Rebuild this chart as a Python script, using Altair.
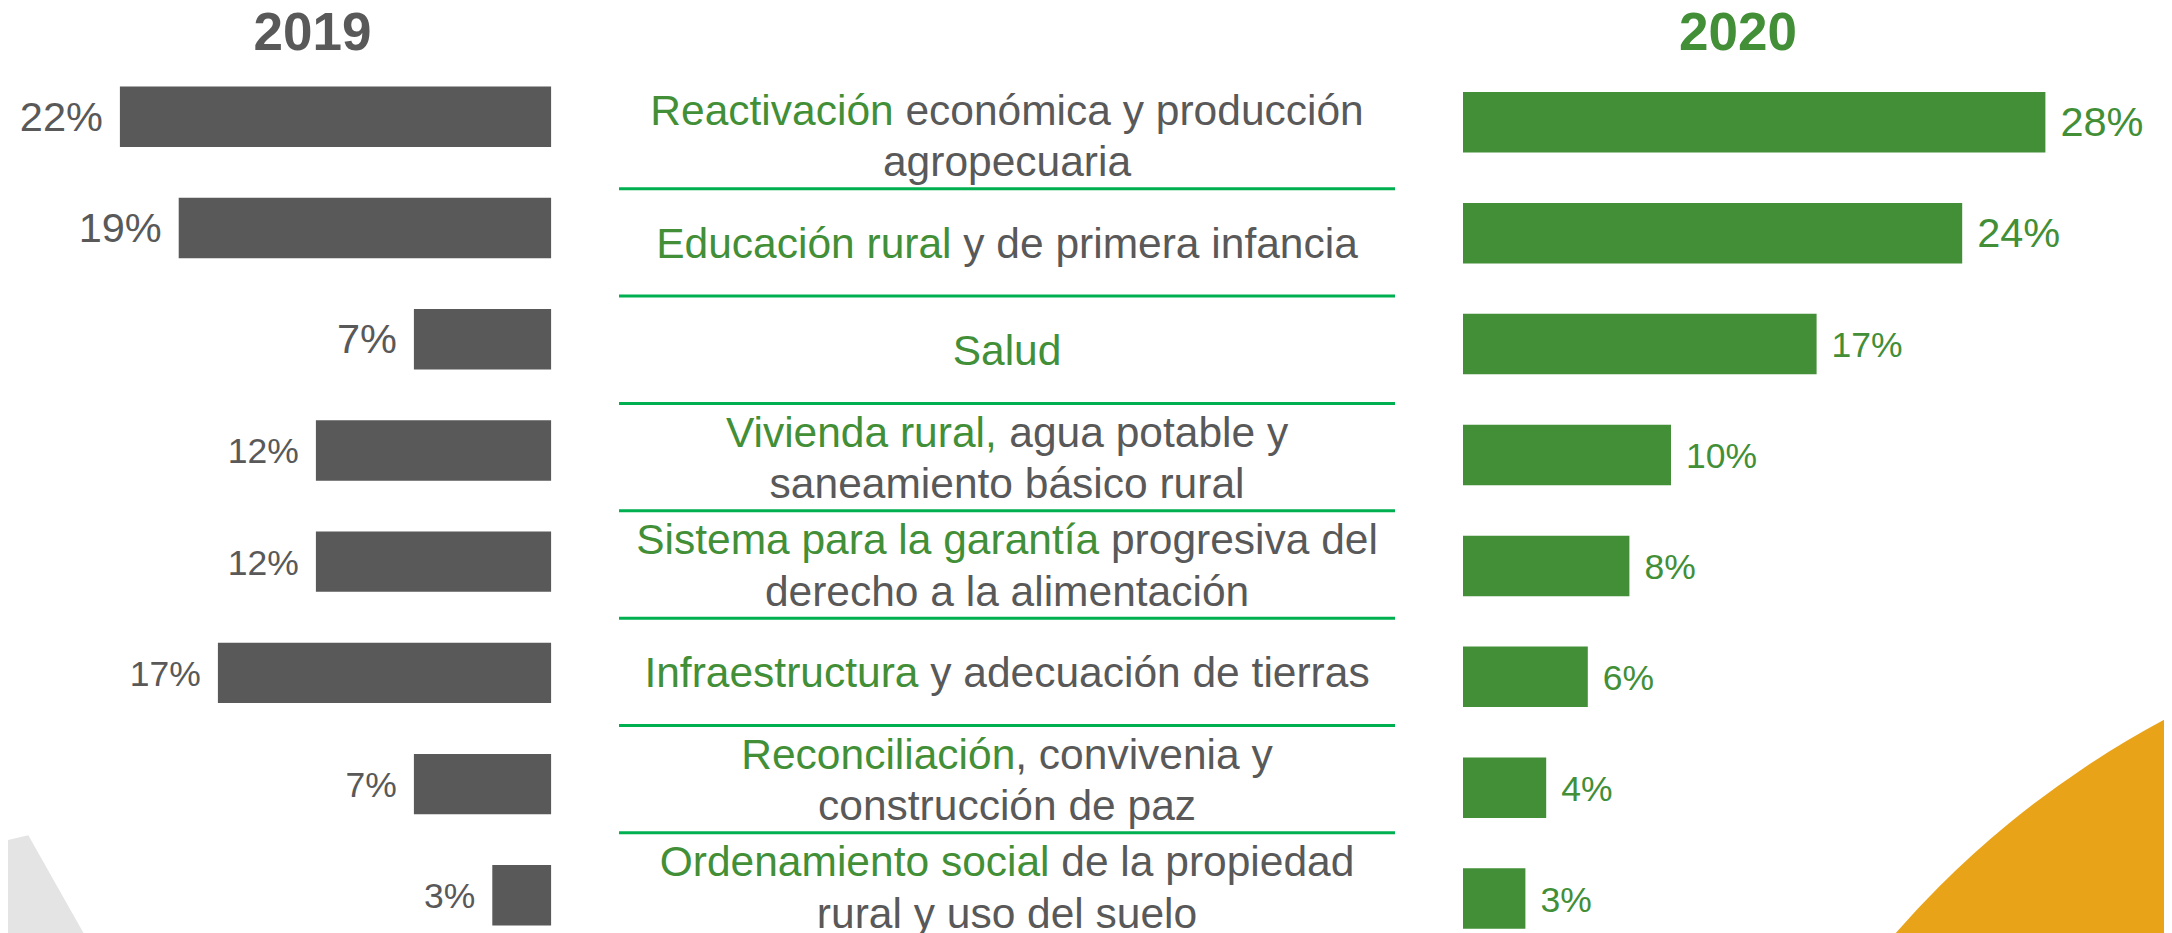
import math
import altair as alt
import pandas as pd

# ---------------- data ----------------
categories = [
    "Reactivación económica y producción agropecuaria",
    "Educación rural y de primera infancia",
    "Salud",
    "Vivienda rural, agua potable y saneamiento básico rural",
    "Sistema para la garantía progresiva del derecho a la alimentación",
    "Infraestructura y adecuación de tierras",
    "Reconciliación, convivenia y construcción de paz",
    "Ordenamiento social de la propiedad rural y uso del suelo",
]
v2019 = [22, 19, 7, 12, 12, 17, 7, 3]
v2020 = [28, 24, 17, 10, 8, 6, 4, 3]
years = ["2019", "2020"]
highlight = [
    "Reactivación",
    "Educación rural",
    "Salud",
    "Vivienda rural,",
    "Sistema para la garantía",
    "Infraestructura",
    "Reconciliación",
    "Ordenamiento social",
]
label_lines = [
    ["Reactivación económica y producción", "agropecuaria"],
    ["Educación rural y de primera infancia"],
    ["Salud"],
    ["Vivienda rural, agua potable y", "saneamiento básico rural"],
    ["Sistema para la garantía progresiva del", "derecho a la alimentación"],
    ["Infraestructura y adecuación de tierras"],
    ["Reconciliación, convivenia y", "construcción de paz"],
    ["Ordenamiento social de la propiedad", "rural y uso del suelo"],
]

# ---------------- style ----------------
GREY = "#595959"
GREEN = "#428F37"
RULE = "#00B050"
ORANGE = "#E9A319"
LIGHT = "#E4E4E4"
FONT = "Liberation Sans, Arial, sans-serif"
W, H = 2156, 925
TXT = 42.5          # category label font size
LINE_GAP = 51.3     # px between lines
ROW_STEP_TXT = 107.34

# Arial / Liberation Sans advance widths (1/1000 em)
ARIAL = {
    " ": 278, ",": 278, ".": 278,
    "a": 556, "b": 556, "c": 500, "d": 556, "e": 556, "f": 278, "g": 556,
    "h": 556, "i": 222, "j": 222, "k": 500, "l": 222, "m": 833, "n": 556,
    "o": 556, "p": 556, "q": 556, "r": 333, "s": 500, "t": 278, "u": 556,
    "v": 500, "w": 722, "x": 500, "y": 500, "z": 500,
    "á": 556, "é": 556, "í": 278, "ó": 556, "ú": 556, "ñ": 556,
    "R": 722, "E": 667, "S": 667, "V": 667, "I": 278, "O": 778,
}


def tw(s, size=TXT):
    return sum(ARIAL.get(c, 556) for c in s) * size / 1000.0


# ---------------- tables ----------------
bars = pd.DataFrame({
    "cat": categories,
    "idx": list(range(len(categories))),
    "v19": v2019,
    "v20": v2020,
    "l19": [f"{v}%" for v in v2019],
    "l20": [f"{v}%" for v in v2020],
})

segs = []
for i, lines in enumerate(label_lines):
    n = len(lines)
    for k, line in enumerate(lines):
        ly = i + (k - (n - 1) / 2) * (LINE_GAP / ROW_STEP_TXT)
        start = -tw(line) / 2
        if k == 0 and line.startswith(highlight[i]):
            g = highlight[i]
            segs.append({"ly": ly, "off": start, "txt": g, "hl": 1})
            rest = line[len(g):]
            if rest.strip():
                lead = len(rest) - len(rest.lstrip(" "))
                segs.append({"ly": ly, "off": start + tw(g) + lead * tw(" "),
                             "txt": rest.strip(), "hl": 0})
        else:
            segs.append({"ly": ly, "off": start, "txt": line, "hl": 0})
segs = pd.DataFrame(segs)
dividers = pd.DataFrame({"ly": [i - 0.5 for i in range(1, len(categories))]})
titles = pd.DataFrame({"year": years})
one = pd.DataFrame({"a": [0]})

# ---------------- scales ----------------
y19 = alt.Y("cat:N", axis=None,
            scale=alt.Scale(domain=categories, range=[53.2, 942.9],
                            paddingInner=0.457, paddingOuter=0.2285))
y20 = alt.Y("cat:N", axis=None,
            scale=alt.Scale(domain=categories, range=[58.85, 946.05],
                            paddingInner=0.4545, paddingOuter=0.227))
x19 = alt.X("v19:Q", axis=None,
            scale=alt.Scale(domain=[0, 30], range=[543.1, 543.1 - 30 * 19.6],
                            nice=False, zero=False))
x20 = alt.X("v20:Q", axis=None,
            scale=alt.Scale(domain=[0, 30], range=[1455.0, 1455.0 + 30 * 20.8],
                            nice=False, zero=False))
ytxt_scale = alt.Scale(domain=[0, 7], range=[127.1, 878.5], nice=False, zero=False)
xtxt = alt.X("off:Q", axis=None,
             scale=alt.Scale(domain=[-500, 500], range=[499, 1499], nice=False, zero=False))

# ---------------- layers ----------------
bg_shape = alt.Chart(one).mark_point(
    shape="M-10,834.2 L20.3,827.3 L84,940 L-10,940 Z",
    filled=True, color=LIGHT, opacity=1, size=4, strokeWidth=0,
).encode(x=alt.value(0), y=alt.value(0))

bg_circle = alt.Chart(one).mark_point(
    shape="circle", filled=True, color=ORANGE, opacity=1,
    size=(2 * 952) ** 2, strokeWidth=0,
).encode(x=alt.value(2604.4), y=alt.value(1551.7))

base = alt.Chart(bars)
bars19 = base.mark_bar(color=GREY).encode(x=x19, x2=alt.datum(0), y=y19)
labels19 = base.mark_text(align="right", baseline="middle", dx=-17, dy=2,
                          color=GREY, font=FONT).encode(
    x=x19, y=y19, text="l19:N",
    size=alt.condition("datum.idx < 3", alt.value(41.5), alt.value(35.5)),
)
bars20 = base.mark_bar(color=GREEN).encode(x=x20, x2=alt.datum(0), y=y20)
labels20 = base.mark_text(align="left", baseline="middle", dx=15, dy=2,
                          color=GREEN, font=FONT).encode(
    x=x20, y=y20, text="l20:N",
    size=alt.condition("datum.idx < 2", alt.value(41.5), alt.value(35.5)),
)

rules = alt.Chart(dividers).mark_rule(color=RULE, strokeWidth=3).encode(
    y=alt.Y("ly:Q", scale=ytxt_scale, axis=None),
    x=alt.value(611), x2=alt.value(1387),
)

seg_base = alt.Chart(segs)
text_green = seg_base.transform_filter("datum.hl == 1").mark_text(
    align="left", baseline="middle", dy=2.5, fontSize=TXT, font=FONT, color=GREEN
).encode(x=xtxt, y=alt.Y("ly:Q", scale=ytxt_scale, axis=None), text="txt:N")
text_grey = seg_base.transform_filter("datum.hl == 0").mark_text(
    align="left", baseline="middle", dy=2.5, fontSize=TXT, font=FONT, color=GREY
).encode(x=xtxt, y=alt.Y("ly:Q", scale=ytxt_scale, axis=None), text="txt:N")

title_text = alt.Chart(titles).mark_text(
    fontSize=53, fontWeight="bold", font=FONT, baseline="alphabetic", align="center"
).encode(
    x=alt.X("year:N", axis=None,
            scale=alt.Scale(type="point", domain=years, range=[304.5, 1730], padding=0)),
    y=alt.value(42),
    text="year:N",
    color=alt.Color("year:N", legend=None,
                    scale=alt.Scale(domain=years, range=[GREY, GREEN])),
)

chart = alt.layer(
    bg_shape, bg_circle, bars19, labels19, bars20, labels20,
    rules, text_green, text_grey, title_text,
).resolve_scale(
    x="independent", y="independent", color="independent", size="independent"
).properties(
    width=W, height=H, padding=0, autosize=alt.AutoSizeParams(type="none"),
    background="white",
).configure_view(stroke=None)

chart.save("out.html", embed_options={"renderer": "svg", "actions": False})
